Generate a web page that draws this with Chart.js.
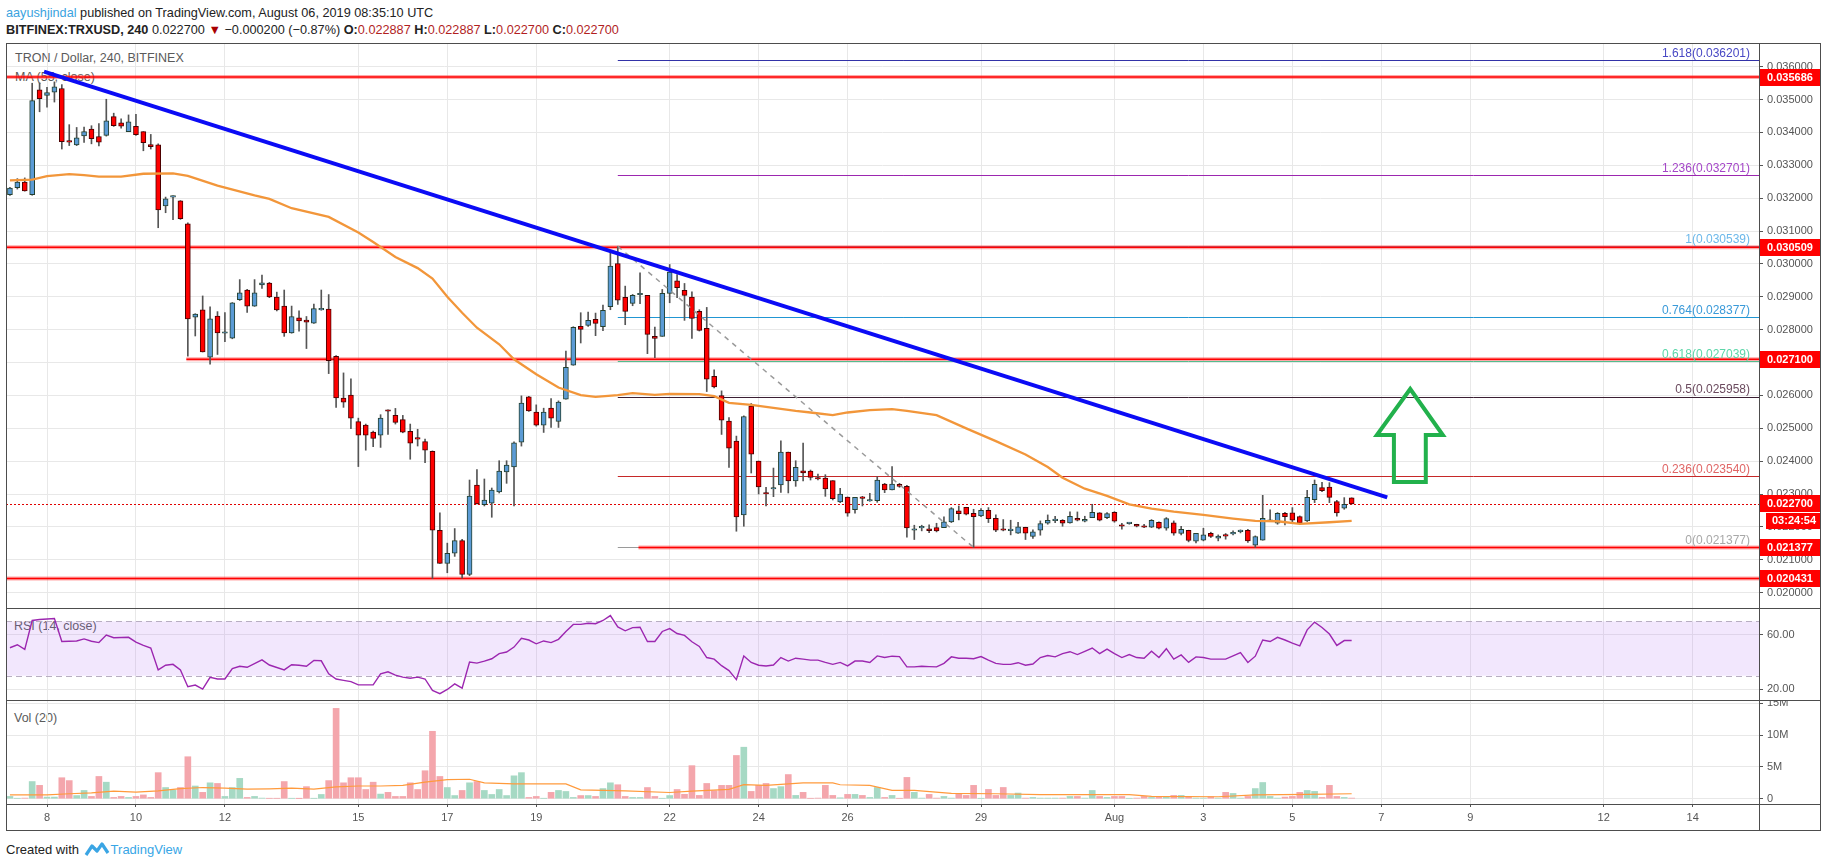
<!DOCTYPE html>
<html><head><meta charset="utf-8">
<script src="https://cdn.jsdelivr.net/npm/chart.js@4.4.1/dist/chart.umd.min.js"></script>
<style>
html,body{margin:0;padding:0;background:#fff;}
body{width:1828px;height:868px;position:relative;overflow:hidden;font-family:"Liberation Sans",Arial,sans-serif;}
.abs{position:absolute;white-space:nowrap;}
canvas{position:absolute;left:0;z-index:1;}
.ln{position:absolute;background:#4d4d4d;z-index:3;}
.v{color:#b21f1f;}
.pl{position:absolute;white-space:nowrap;color:#5a5a5a;font-size:12.5px;line-height:16px;z-index:0;}
</style></head><body>
<div class="abs" style="left:6px;top:4px;font-size:12.7px;line-height:18px;color:#222"><span style="color:#3ba3e0">aayushjindal</span> published on TradingView.com, August 06, 2019 08:35:10 UTC</div>
<div class="abs" style="left:6px;top:21px;font-size:12.7px;line-height:18px;color:#222"><b>BITFINEX:TRXUSD, 240</b> 0.022700 <span style="color:#a80000">▼</span> −0.000200 (−0.87%) <b>O:</b><span class="v">0.022887</span> <b>H:</b><span class="v">0.022887</span> <b>L:</b><span class="v">0.022700</span> <b>C:</b><span class="v">0.022700</span></div>

<div class="pl" style="left:15px;top:50px">TRON / Dollar, 240, BITFINEX</div>
<div class="pl" style="left:15px;top:69px">MA (55, close)</div>
<div class="pl" style="left:14px;top:618px">RSI (14, close)</div>
<div class="pl" style="left:14px;top:710px">Vol (20)</div>

<canvas id="cPrice" width="1828" height="565" style="top:43px"></canvas>
<canvas id="cRsi" width="1828" height="92" style="top:608px"></canvas>
<canvas id="cVol" width="1828" height="131" style="top:700px"></canvas>

<div class="ln" style="left:6px;top:43px;width:1815px;height:1px"></div>
<div class="ln" style="left:6px;top:830px;width:1815px;height:1px"></div>
<div class="ln" style="left:6px;top:43px;width:1px;height:788px"></div>
<div class="ln" style="left:1820px;top:43px;width:1px;height:788px"></div>
<div class="ln" style="left:1759px;top:43px;width:1px;height:788px"></div>
<div class="ln" style="left:6px;top:608px;width:1815px;height:1px"></div>
<div class="ln" style="left:6px;top:700px;width:1815px;height:1px"></div>
<div class="ln" style="left:6px;top:804px;width:1815px;height:1px"></div>

<div class="abs" style="left:6px;top:841px;font-size:13px;line-height:18px;color:#222">Created with <svg width="26" height="16" viewBox="0 0 26 16" style="vertical-align:-3px;margin:0 1px"><path d="M2 14 L8 5 L13 10 L18 3 L24 12" stroke="#3aa5e4" stroke-width="3.2" fill="none" stroke-linejoin="round"/></svg><span style="color:#38a6e6">TradingView</span></div>

<script>
// ---------- DATA ----------
const candleOpen = [
0.032108,0.032320,0.032490,0.032108,0.035296,0.035126,0.035222,0.035338,0.033728,0.033623,
0.033898,0.034099,0.033877,0.033909,0.034480,0.034290,0.034025,0.034184,0.034025,0.033633,
0.033623,0.031769,0.032034,0.031918,0.031219,0.028381,0.028603,0.027163,0.028412,0.027893,
0.027745,0.028910,0.029207,0.028719,0.029365,0.029418,0.028995,0.028719,0.027904,0.028359,
0.028296,0.028200,0.028603,0.028624,0.027194,0.025924,0.026008,0.025204,0.025098,0.024886,
0.024791,0.025553,0.025394,0.025267,0.024907,0.024695,0.024600,0.024303,0.021900,0.020893,
0.021201,0.021582,0.020560,0.023276,0.022680,0.022720,0.023064,0.023671,0.023823,0.024581,
0.025957,0.025492,0.025097,0.025613,0.025209,0.025886,0.026918,0.028102,0.028132,0.028314,
0.028092,0.028699,0.030014,0.028982,0.028800,0.029063,0.029043,0.027798,0.027798,0.029103,
0.029488,0.029194,0.028992,0.028557,0.028041,0.026584,0.025998,0.025219,0.024612,0.022366,
0.025674,0.024005,0.023024,0.023155,0.023276,0.024278,0.023398,0.023711,0.023701,0.023489,
0.023489,0.023408,0.022761,0.022912,0.022528,0.022912,0.022791,0.022801,0.023307,0.023125,
0.023297,0.023236,0.021901,0.021972,0.021941,0.021982,0.021982,0.022154,0.022488,0.022599,
0.022417,0.022336,0.022508,0.022265,0.021921,0.021891,0.021810,0.021992,0.021709,0.021901,
0.022113,0.022194,0.022204,0.022124,0.022265,0.022174,0.022285,0.022427,0.022285,0.022447,
0.022053,0.022103,0.022083,0.022022,0.021992,0.022144,0.021962,0.022124,0.021800,0.021901,
0.021567,0.021597,0.021810,0.021658,0.021759,0.021790,0.021860,0.021901,0.021446,0.021597,
0.022174,0.022113,0.022417,0.022427,0.022316,0.022184,0.022832,0.023196,0.023216,0.022771,
0.022569,0.022887];
const candleHigh = [
0.032331,0.032595,0.032617,0.035497,0.035508,0.035370,0.035539,0.035455,0.034237,0.034152,
0.034163,0.034205,0.034269,0.035010,0.034586,0.034417,0.034533,0.034554,0.034025,0.033940,
0.033654,0.032034,0.032076,0.031928,0.031250,0.028487,0.029027,0.028698,0.028550,0.028518,
0.028826,0.029524,0.029228,0.029524,0.029662,0.029439,0.029143,0.029207,0.028719,0.028571,
0.028402,0.028783,0.029207,0.029069,0.027215,0.026686,0.026506,0.025310,0.025130,0.024918,
0.025415,0.025564,0.025606,0.025394,0.025130,0.024971,0.024674,0.024314,0.022429,0.021508,
0.021952,0.021620,0.023428,0.023742,0.023459,0.023185,0.024015,0.024015,0.024591,0.025988,
0.025977,0.025714,0.025613,0.025907,0.025835,0.027353,0.028091,0.028517,0.028537,0.028506,
0.028749,0.030408,0.030539,0.029326,0.029073,0.029730,0.029043,0.028082,0.029225,0.029983,
0.029680,0.029407,0.029154,0.028608,0.028678,0.026777,0.026139,0.025330,0.024764,0.025380,
0.025755,0.024005,0.023206,0.023792,0.024622,0.024278,0.024015,0.024551,0.023732,0.023610,
0.023590,0.023408,0.023175,0.022912,0.022902,0.022932,0.023024,0.023529,0.023327,0.023833,
0.023327,0.023266,0.022053,0.022053,0.022063,0.022113,0.022306,0.022589,0.022639,0.022599,
0.022538,0.022559,0.022589,0.022366,0.022225,0.022205,0.022144,0.021992,0.021911,0.022184,
0.022366,0.022326,0.022225,0.022457,0.022457,0.022326,0.022690,0.022437,0.022437,0.022467,
0.022113,0.022134,0.022083,0.022083,0.022225,0.022154,0.022285,0.022184,0.022022,0.021901,
0.021810,0.021962,0.021840,0.021759,0.021800,0.021881,0.021911,0.021931,0.021729,0.022963,
0.022518,0.022437,0.022447,0.022589,0.022336,0.023115,0.023428,0.023358,0.023348,0.022811,
0.022892,0.022887];
const candleLow = [
0.032087,0.032278,0.032214,0.032090,0.034629,0.034766,0.034925,0.033496,0.033601,0.033600,
0.033697,0.033654,0.033591,0.033888,0.034184,0.034131,0.034025,0.033909,0.033443,0.033496,
0.031102,0.031558,0.031346,0.031356,0.027194,0.027809,0.027322,0.026951,0.027247,0.027639,
0.027724,0.028889,0.028529,0.028709,0.029259,0.028974,0.028571,0.027798,0.027893,0.027957,
0.027427,0.028190,0.028593,0.026665,0.025638,0.025638,0.024992,0.023837,0.024335,0.024441,
0.024420,0.024812,0.025130,0.024865,0.024060,0.024462,0.023954,0.020431,0.020893,0.020607,
0.021105,0.020445,0.020520,0.022700,0.022639,0.022295,0.023034,0.023327,0.022639,0.024460,
0.025512,0.025067,0.024875,0.025027,0.025027,0.025886,0.026918,0.027596,0.028102,0.027819,
0.027970,0.028608,0.028769,0.028152,0.028729,0.028790,0.027272,0.027151,0.027798,0.028820,
0.028972,0.028284,0.027738,0.027960,0.026119,0.026230,0.024814,0.023813,0.021870,0.022022,
0.023641,0.023003,0.022639,0.022922,0.023054,0.023034,0.023236,0.023398,0.023428,0.023428,
0.022932,0.022821,0.022740,0.022326,0.022417,0.022639,0.022781,0.022750,0.023044,0.023125,
0.023206,0.021688,0.021618,0.021881,0.021830,0.021850,0.021982,0.022134,0.022215,0.022366,
0.021377,0.022316,0.022134,0.021860,0.021881,0.021759,0.021800,0.021618,0.021648,0.021749,
0.022083,0.022134,0.022022,0.022113,0.022184,0.022154,0.022285,0.022184,0.022255,0.022144,
0.021931,0.022083,0.022002,0.021982,0.021982,0.021941,0.021901,0.021749,0.021759,0.021547,
0.021517,0.021577,0.021678,0.021577,0.021628,0.021759,0.021820,0.021527,0.021380,0.021597,
0.022164,0.022083,0.022063,0.022103,0.022083,0.022164,0.022741,0.023074,0.022741,0.022326,
0.022538,0.022700];
const candleClose = [
0.032310,0.032490,0.032225,0.034968,0.035031,0.035211,0.035391,0.033718,0.033707,0.033834,
0.034025,0.033813,0.033707,0.034353,0.034205,0.034194,0.034322,0.033930,0.033686,0.033570,
0.031642,0.031981,0.032045,0.031377,0.028328,0.028476,0.027322,0.028328,0.027904,0.027915,
0.028815,0.029122,0.028719,0.029122,0.029429,0.028995,0.028603,0.027904,0.028402,0.028264,
0.028232,0.028645,0.028614,0.027057,0.025924,0.025797,0.025310,0.024791,0.024791,0.024695,
0.025310,0.025521,0.025182,0.024886,0.024547,0.024674,0.024335,0.021900,0.020893,0.021201,
0.021582,0.020560,0.022943,0.022700,0.022821,0.023125,0.023701,0.023883,0.024561,0.025765,
0.025532,0.025097,0.025492,0.025310,0.025795,0.026858,0.028071,0.028011,0.028284,0.028193,
0.028587,0.029933,0.028901,0.028557,0.029043,0.029083,0.027859,0.027738,0.029103,0.029751,
0.029275,0.029043,0.028345,0.027980,0.026493,0.026261,0.025249,0.024399,0.022305,0.025360,
0.024217,0.023216,0.023003,0.023186,0.024278,0.023398,0.023813,0.023641,0.023509,0.023458,
0.023155,0.022862,0.023003,0.022417,0.022902,0.022871,0.022811,0.023428,0.023125,0.023307,
0.023236,0.021972,0.021931,0.021992,0.021891,0.021881,0.022154,0.022559,0.022407,0.022387,
0.022316,0.022508,0.022255,0.021901,0.021901,0.021911,0.022002,0.021810,0.021850,0.022103,
0.022204,0.022214,0.022113,0.022326,0.022204,0.022235,0.022447,0.022204,0.022407,0.022174,
0.022022,0.022124,0.022022,0.021992,0.022204,0.021962,0.022255,0.021810,0.021931,0.021587,
0.021810,0.021759,0.021709,0.021719,0.021719,0.021810,0.021881,0.021577,0.021709,0.022265,
0.022204,0.022417,0.022316,0.022204,0.022113,0.022902,0.023297,0.023105,0.022902,0.022427,
0.022690,0.022700];
const volume = [
360000,50000,100000,2700000,2100000,260000,260000,3300000,2850000,500000,
1300000,360000,3500000,2600000,200000,360000,200000,360000,600000,200000,
4100000,1760000,1350000,1760000,6600000,2000000,1000000,2500000,2400000,360000,
1760000,3200000,200000,360000,100000,50000,50000,2700000,50000,20000,
1900000,50000,670000,2850000,14200000,2500000,3300000,3300000,1450000,2600000,
730000,1000000,360000,360000,2500000,1450000,4400000,10600000,3500000,1760000,
500000,1300000,2500000,2700000,1300000,670000,1450000,500000,3600000,4100000,
200000,360000,50000,1000000,1300000,1140000,200000,500000,500000,360000,
1600000,2500000,2200000,360000,200000,200000,1760000,360000,50000,500000,
1450000,700000,5200000,520000,2400000,1250000,2100000,2100000,6800000,8100000,
1150000,2100000,2400000,1600000,1900000,3800000,520000,1000000,50000,100000,
2100000,520000,150000,680000,680000,520000,200000,1770000,200000,520000,
50000,3350000,1000000,100000,680000,100000,360000,100000,830000,520000,
2100000,50000,1460000,520000,1770000,520000,890000,100000,200000,100000,
100000,100000,100000,360000,360000,100000,1300000,360000,200000,360000,
360000,50000,100000,360000,200000,260000,360000,520000,520000,360000,
100000,100000,310000,100000,1000000,830000,100000,360000,1600000,2550000,
360000,100000,260000,360000,1000000,1300000,1150000,200000,2100000,360000,
200000,100000];
const maIdx = [0,3,5,8,10,12,15,18,22,24,28,33,35,38,43,47,49,52,55,57,59,61,63,66,68,71,74,77,79,82,84,87,89,93,95,97,100,102,106,108,111,113,116,119,121,125,129,133,137,140,142,145,148,151,154,157,161,165,168,171,174,178,181];
const maVal = [0.032543,0.032564,0.032670,0.032733,0.032701,0.032659,0.032659,0.032744,0.032754,0.032680,
0.032384,0.032087,0.031981,0.031695,0.031431,0.030954,0.030668,0.030213,0.029874,0.029556,
0.029000,0.028517,0.028061,0.027556,0.027100,0.026645,0.026240,0.026008,0.025957,0.026008,
0.026068,0.026018,0.026048,0.026038,0.025977,0.025775,0.025714,0.025654,0.025532,0.025482,
0.025401,0.025482,0.025552,0.025583,0.025532,0.025400,0.025000,0.024612,0.024207,0.023823,
0.023499,0.023165,0.022943,0.022690,0.022559,0.022467,0.022366,0.022255,0.022184,0.022174,
0.022093,0.022144,0.022184];
const rsiIdx = [0,1,2,3,4,6,7,9,10,11,12,13,14,16,17,18,19,20,21,22,23,24,25,26,27,28,29,30,31,32,34,35,37,38,39,40,41,42,43,44,45,46,47,49,50,51,52,53,54,55,56,57,58,59,60,61,62,63,64,65,66,67,68,69,70,71,72,73,74,75,76,77,78,79,80,81,82,83,84,85,86,87,88,89,90,91,92,93,94,95,96,97,98,99,100,101,102,103,104,105,106,107,108,109,110,111,112,113,114,115,116,117,118,119,120,121,122,123,124,125,126,127,128,129,130,131,132,133,134,135,136,137,138,139,140,141,142,143,144,145,146,147,148,149,150,151,152,153,154,155,156,157,158,159,160,161,162,164,165,166,167,168,169,170,171,172,173,174,175,176,177,178,179,180,181];
const rsiVal = [50.6,52.8,49.4,70.7,71.4,72.2,55.2,55.6,57.1,55.4,54.4,59.9,58.0,58.3,54.7,52.3,50.4,34.3,37.7,38.4,34.3,21.9,23.1,20.2,28.8,27.6,27.6,35.3,37.0,36.2,41.7,37.9,34.3,38.1,37.7,37.0,41.3,41.0,31.4,27.6,26.6,25.7,23.3,23.3,31.4,32.9,30.5,29.0,28.1,29.0,27.6,19.2,16.8,19.9,24.0,20.9,40.1,39.3,40.8,42.5,46.3,47.5,51.1,57.5,56.3,53.5,55.6,54.4,56.8,62.6,67.8,67.8,68.6,68.3,70.7,74.3,65.9,63.1,65.4,65.7,55.2,55.2,62.6,64.7,61.1,59.7,55.0,51.6,43.4,42.2,37.4,33.8,27.1,44.6,39.8,37.7,37.2,37.9,43.4,40.8,42.9,42.2,41.5,41.5,39.8,38.4,39.8,37.2,40.8,40.8,39.8,44.6,43.4,44.4,44.1,36.5,36.5,37.0,36.7,36.5,39.1,43.9,42.9,42.9,42.5,44.1,41.5,39.1,38.4,38.4,39.6,37.7,38.6,43.4,44.9,43.9,46.3,47.7,45.6,48.0,50.4,46.3,49.6,46.3,43.4,45.6,43.4,42.9,48.0,43.4,49.9,42.2,45.3,39.8,43.9,43.4,42.2,42.2,44.6,47.0,39.8,44.4,56.3,55.2,58.3,56.3,54.0,52.0,63.8,69.5,65.5,60.7,52.3,55.9,55.9];
const volMaIdx = [0,5,8,11,14,17,20,23,26,29,32,35,38,41,44,47,50,53,56,59,62,64,68,71,75,77,83,89,92,97,99,102,107,111,112,116,119,122,127,133,139,151,154,163,168,175,181];
const volMaVal = [620000,620000,780000,930000,1190000,1040000,1240000,1600000,1760000,1660000,1500000,1550000,1660000,1500000,1870000,2000000,2000000,2100000,2600000,3000000,3060000,2500000,2330000,2330000,2330000,1400000,1240000,980000,1200000,1460000,2200000,2100000,2500000,2500000,2200000,2100000,1300000,1300000,830000,780000,630000,630000,360000,310000,600000,680000,780000];

const dateTickIdx = [5,17,29,47,59,71,89,101,113,131,149,161,173,185,197,215,227];
const dateTickLabels = ['8','10','12','15','17','19','22','24','26','29','Aug','3','5','7','9','12','14'];
const priceTicks = [0.020,0.021,0.022,0.023,0.024,0.025,0.026,0.027,0.028,0.029,0.030,0.031,0.032,0.033,0.034,0.035,0.036];
const rsiTicks = [20,60];
const rsiBand = [30,70];
const volTicks = [0,5000000,10000000,15000000];
const volTickLabels = ['0','5M','10M','15M'];

const levelPrices = [0.035686,0.030509,0.027100,0.021377,0.020431];
const levelStartIdx = [null,null,23.8,84.8,null];
const fibRatios = [1.618,1.236,1,0.764,0.618,0.5,0.236,0];
const fibPrices = [0.036201,0.032701,0.030539,0.028377,0.027039,0.025958,0.023540,0.021377];
const fibStartIdx = 82;
const fibDiagIdx = [82,130];
const fibDiagPrice = [0.030539,0.021377];
const trendIdx = [4.6,185.8];
const trendPrice = [0.035850,0.022900];
const lastPrice = 0.022700;
const countdownText = '03:24:54';
const axisBoxPrices = [0.035686,0.030509,0.027100,0.022700,0.021377,0.020431];
const arrowIdx = [188.9,193.3,191.0,191.0,186.7,186.7,184.4];
const arrowPrice = [0.026196,0.024797,0.024797,0.023367,0.023367,0.024797,0.024797];

// ---------- STYLE ----------
const FONT = '"Liberation Sans", Arial, sans-serif';
const GRID = '#e8e8e8';
const UP_FILL = '#5b9bd5', UP_EDGE = '#24402f';
const DN_FILL = '#ff0000', DN_EDGE = '#4a0000';
const fibLineColors = ['#3232a8','#9c27b0','#5fa8de','#2196d3','#3fcf9a','#3b1f33','#c62828','#9a9a9a'];
const fibTextColors = ['#4848c4','#a446c8','#6cb8ea','#3a9ad9','#5cd6a8','#6b4a5e','#e06666','#a8a8a8'];
const X_MIN = -0.531, X_MAX = 235.95;

Chart.defaults.font.family = FONT;
Chart.defaults.font.size = 11;
Chart.defaults.color = '#555';
Chart.defaults.animation = false;
Chart.defaults.plugins.legend.display = false;
Chart.defaults.plugins.tooltip.enabled = false;

function xScale(show){
  return {
    type:'linear', min:X_MIN, max:X_MAX, offset:false,
    grid:{color:GRID, offset:false, drawTicks:show, tickLength:3, tickColor:'#555'},
    border:{display:false},
    ticks:{display:show, autoSkip:false, maxRotation:0, minRotation:0, padding:4, color:'#555', font:{size:11},
      callback:(v)=>{const k=dateTickIdx.indexOf(v); return k>=0?dateTickLabels[k]:'';}},
    afterBuildTicks:(s)=>{s.ticks=dateTickIdx.map(v=>({value:v}));},
    afterFit:(s)=>{s.height=show?27:0; s.paddingLeft=0; s.paddingRight=0;}
  };
}
function yScale(min,max,ticks,fmt){
  return {
    type:'linear', position:'right', min, max, beginAtZero:false,
    grid:{color:GRID, drawTicks:true, tickLength:4, tickColor:'#555'},
    border:{display:false},
    ticks:{autoSkip:false, padding:4, color:'#555', font:{size:11}, callback:fmt},
    afterBuildTicks:(s)=>{s.ticks=ticks.map(v=>({value:v}));},
    afterFit:(s)=>{s.width=62; s.paddingTop=0; s.paddingBottom=0;}
  };
}
const baseLayout = {autoPadding:false, padding:{left:6,right:7,top:0,bottom:0}};

function hline(ctx,x0,x1,y){ctx.beginPath();ctx.moveTo(x0,y);ctx.lineTo(x1,y);ctx.stroke();}

const priceDecor = {
  id:'priceDecor',
  beforeDatasetsDraw(chart){
    const {ctx, chartArea:a, scales:{x,y}} = chart;
    ctx.save();
    ctx.beginPath(); ctx.rect(a.left,a.top,a.right-a.left,a.bottom-a.top); ctx.clip();
    const fx = x.getPixelForValue(fibStartIdx);
    ctx.lineWidth = 1;
    fibPrices.forEach((p,k)=>{
      ctx.strokeStyle = fibLineColors[k];
      hline(ctx,fx,a.right,Math.round(y.getPixelForValue(p))+0.5);
    });
    levelPrices.forEach((p,k)=>{
      const py = y.getPixelForValue(p);
      const x0 = levelStartIdx[k]==null ? a.left : x.getPixelForValue(levelStartIdx[k]);
      ctx.strokeStyle='rgba(255,60,60,0.45)'; ctx.lineWidth=4; hline(ctx,x0,a.right,py);
      ctx.strokeStyle='#ff0000'; ctx.lineWidth=1.6; hline(ctx,x0,a.right,py);
    });
    ctx.strokeStyle='#e00000'; ctx.lineWidth=1; ctx.setLineDash([2,2]);
    hline(ctx,a.left,a.right,Math.round(y.getPixelForValue(lastPrice))+0.5);
    ctx.setLineDash([]);
    ctx.font = '12px '+FONT; ctx.textAlign='right'; ctx.textBaseline='alphabetic';
    fibPrices.forEach((p,k)=>{
      ctx.fillStyle = fibTextColors[k];
      ctx.fillText(fibRatios[k]+'('+p.toFixed(6)+')', a.right-9, y.getPixelForValue(p)-3.5);
    });
    ctx.restore();
  },
  afterDatasetsDraw(chart){
    const {ctx, scales:{x,y}} = chart;
    ctx.save();
    ctx.beginPath();
    arrowIdx.forEach((ix,k)=>{
      const px=x.getPixelForValue(ix), py=y.getPixelForValue(arrowPrice[k]);
      if(k) ctx.lineTo(px,py); else ctx.moveTo(px,py);
    });
    ctx.closePath();
    ctx.strokeStyle='#22b14c'; ctx.lineWidth=4; ctx.lineJoin='miter'; ctx.stroke();
    ctx.restore();
  },
  afterDraw(chart){
    const {ctx, chartArea:a, scales:{y}} = chart;
    ctx.save();
    ctx.font = 'bold 11px '+FONT; ctx.textBaseline='middle'; ctx.textAlign='left';
    axisBoxPrices.forEach(p=>{
      const py = y.getPixelForValue(p);
      ctx.fillStyle='#ff0000'; ctx.fillRect(a.right, Math.round(py-8.5), 62, 17);
      ctx.fillStyle='#ffffff'; ctx.fillText(p.toFixed(6), a.right+8, py+0.5);
    });
    const cy = y.getPixelForValue(lastPrice)+17;
    ctx.fillStyle='#ff0000'; ctx.fillRect(a.right+7, Math.round(cy-8), 55, 16);
    ctx.fillStyle='#ffffff'; ctx.fillText(countdownText, a.right+13, cy+0.5);
    ctx.restore();
  }
};

const rsiDecor = {
  id:'rsiDecor',
  beforeDatasetsDraw(chart){
    const {ctx, chartArea:a, scales:{y}} = chart;
    const yTop = y.getPixelForValue(rsiBand[1]), yBot = y.getPixelForValue(rsiBand[0]);
    ctx.save();
    ctx.fillStyle='rgba(180,110,245,0.17)';
    ctx.fillRect(a.left,yTop,a.right-a.left,yBot-yTop);
    ctx.strokeStyle='#b8aec2'; ctx.lineWidth=1; ctx.setLineDash([6,4]);
    hline(ctx,a.left,a.right,Math.round(yTop)+0.5);
    hline(ctx,a.left,a.right,Math.round(yBot)+0.5);
    ctx.restore();
  }
};

// ---------- CHARTS ----------
const isUp = candleOpen.map((o,i)=>candleClose[i]>=o);
const wickData = candleOpen.map((o,i)=>({x:i, y:[candleLow[i], candleHigh[i]]}));
const bodyData = candleOpen.map((o,i)=>({x:i, y:[o, candleClose[i]]}));
const maData = maIdx.map((ix,k)=>({x:ix, y:maVal[k]}));

new Chart(document.getElementById('cPrice'), {
  type:'bar',
  data:{datasets:[
    {type:'line', label:'Trend', data:trendIdx.map((ix,k)=>({x:ix,y:trendPrice[k]})), borderColor:'#0b0bf5', borderWidth:4, pointRadius:0, order:1},
    {type:'line', label:'FibDiag', data:fibDiagIdx.map((ix,k)=>({x:ix,y:fibDiagPrice[k]})), borderColor:'#9a9a9a', borderWidth:1.5, borderDash:[5,5], pointRadius:0, order:2},
    {type:'line', label:'MA 55', data:maData, borderColor:'#f2963a', borderWidth:2.3, pointRadius:0, tension:0, order:3},
    {label:'Body', data:bodyData, barThickness:5, grouped:false, borderSkipped:false, borderWidth:1, minBarLength:1.5,
      backgroundColor:isUp.map(u=>u?UP_FILL:DN_FILL), borderColor:isUp.map(u=>u?UP_EDGE:DN_EDGE), order:4},
    {label:'Wick', data:wickData, barThickness:1, grouped:false, borderWidth:0, backgroundColor:'#555555', order:5}
  ]},
  options:{
    responsive:false, layout:baseLayout,
    scales:{x:xScale(false), y:yScale(0.019535,0.036721,priceTicks,(v)=>Number(v).toFixed(6))}
  },
  plugins:[priceDecor]
});

new Chart(document.getElementById('cRsi'), {
  type:'line',
  data:{datasets:[{label:'RSI', data:rsiIdx.map((ix,k)=>({x:ix,y:rsiVal[k]})), borderColor:'#9c27b0', borderWidth:1.4, pointRadius:0, tension:0}]},
  options:{
    responsive:false, layout:baseLayout,
    scales:{x:xScale(false), y:yScale(12.13,79.88,rsiTicks,(v)=>Number(v).toFixed(2))}
  },
  plugins:[rsiDecor]
});

new Chart(document.getElementById('cVol'), {
  type:'bar',
  data:{datasets:[
    {type:'line', label:'Vol MA', data:volMaIdx.map((ix,k)=>({x:ix,y:volMaVal[k]})), borderColor:'#ff9a3c', borderWidth:1.2, pointRadius:0, tension:0, order:1},
    {label:'Volume', data:volume.map((v,i)=>({x:i,y:v})), barThickness:6, grouped:false, borderWidth:0,
      backgroundColor:isUp.map(u=>u?'#a6d9c4':'#f4a6ac'), order:2}
  ]},
  options:{
    responsive:false, layout:baseLayout,
    scales:{x:xScale(true), y:yScale(-830000,15520000,volTicks,(v)=>{const k=volTicks.indexOf(v);return k>=0?volTickLabels[k]:'';})}
  }
});
</script>
</body></html>
